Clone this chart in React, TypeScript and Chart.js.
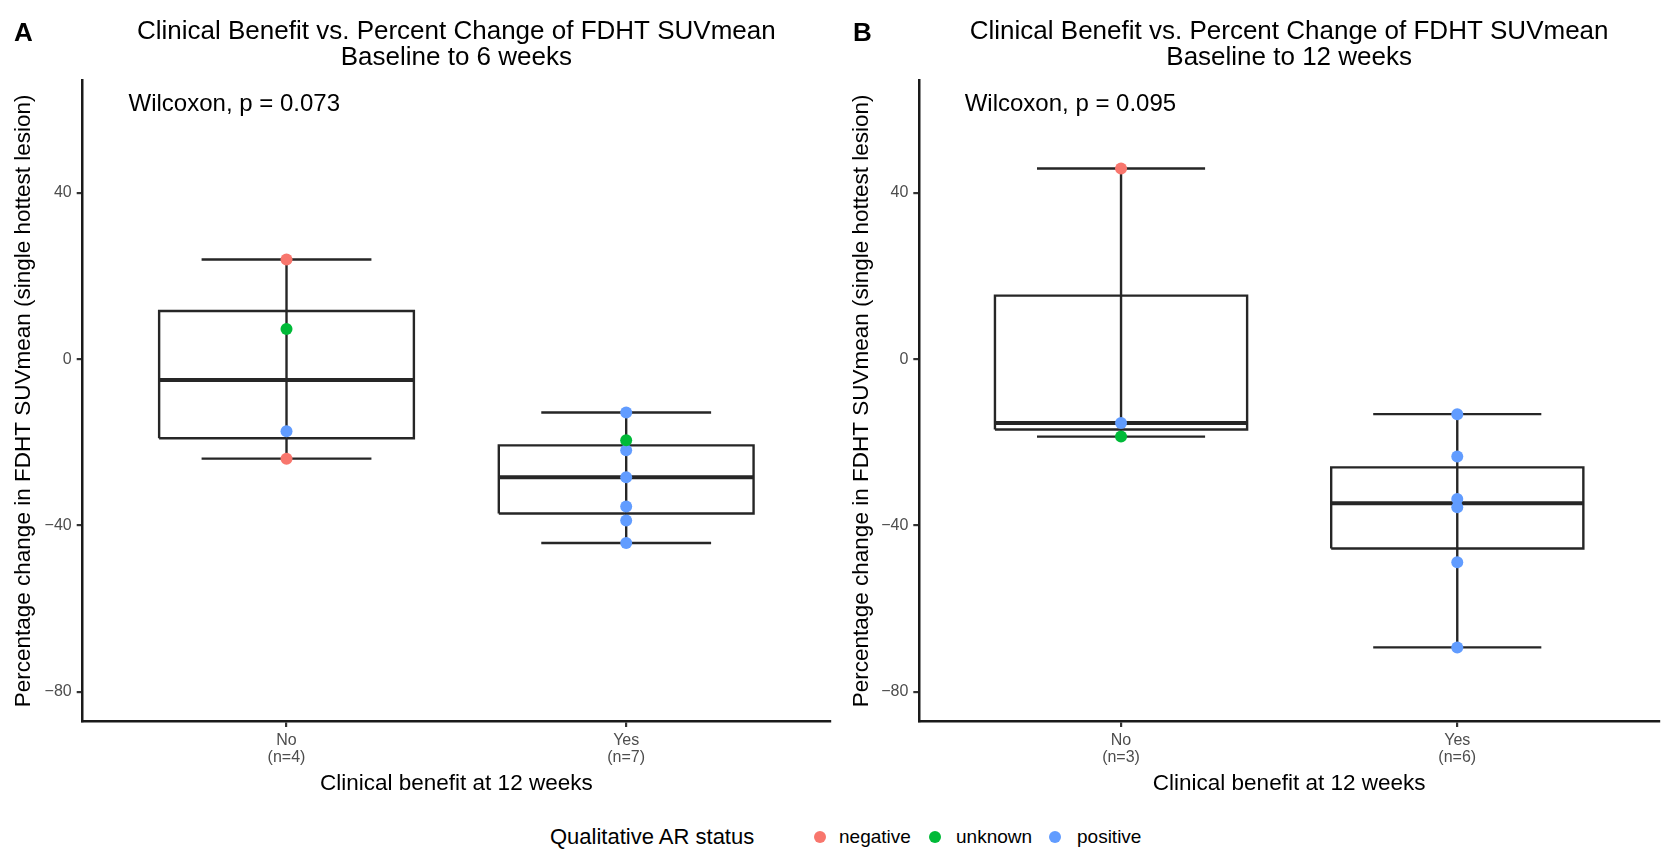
import React, { useEffect, useRef } from "react";
import { Chart, registerables } from "chart.js";

Chart.register(...registerables);

const FONT = "'Liberation Sans', Arial, Helvetica, sans-serif";

// Shared categories and AR status palette
const groups = ["No", "Yes"];
const groupPositions = [1, 2];
const statusNames = ["negative", "unknown", "positive"];
const statusColors = ["#F8766D", "#00BA38", "#619CFF"];
const yTicks = [-80, -40, 0, 40];

// Panel A: baseline to 6 weeks
const countsA = [4, 7];
const noValuesA = [24.0, 7.3, -17.3, -23.9];
const noStatusA = ["negative", "unknown", "positive", "negative"];
const yesValuesA = [-12.8, -19.5, -21.9, -28.4, -35.4, -38.8, -44.2];
const yesStatusA = ["positive", "unknown", "positive", "positive", "positive", "positive", "positive"];
const lowerWhiskerA = [-23.9, -44.2];
const q1A = [-19.0, -37.1];
const medianA = [-5.0, -28.4];
const q3A = [11.6, -20.7];
const upperWhiskerA = [24.0, -12.8];
const pLabelA = "Wilcoxon, p = 0.073";

// Panel B: baseline to 12 weeks
const countsB = [3, 6];
const noValuesB = [45.9, -15.3, -18.6];
const noStatusB = ["negative", "positive", "unknown"];
const yesValuesB = [-13.2, -23.4, -33.6, -35.6, -48.8, -69.3];
const yesStatusB = ["positive", "positive", "positive", "positive", "positive", "positive"];
const lowerWhiskerB = [-18.6, -69.3];
const q1B = [-16.9, -45.5];
const medianB = [-15.3, -34.6];
const q3B = [15.3, -26.0];
const upperWhiskerB = [45.9, -13.2];
const pLabelB = "Wilcoxon, p = 0.095";

// Axis and label text
const titleLine1 = "Clinical Benefit vs. Percent Change of FDHT SUVmean";
const subtitleA = "Baseline to 6 weeks";
const subtitleB = "Baseline to 12 weeks";
const xTitle = "Clinical benefit at 12 weeks";
const yTitle = "Percentage change in FDHT SUVmean (single hottest lesion)";
const legendTitle = "Qualitative AR status";
const pLabelX = 0.535;
const pLabelY = 61.4;

// Legend key placement (dot centre, label start)
const legendDotX = [820, 935, 1055];
const legendLabelX = [839, 956, 1077];

const BOX_HALF = 0.375;
const CAP_HALF = 0.25;
const GAP = { x: 1, y: null as any };
const LINE_COLOR = "#262626";

type Panel = {
  counts: number[];
  values: number[][];
  statuses: string[][];
  low: number[];
  q1: number[];
  med: number[];
  q3: number[];
  high: number[];
  subtitle: string;
  pLabel: string;
};

function buildDatasets(p: Panel) {
  const boxes: any[] = [];
  const medians: any[] = [];
  const whiskers: any[] = [];
  groupPositions.forEach((x, i) => {
    boxes.push(
      { x: x - BOX_HALF, y: p.q1[i] },
      { x: x - BOX_HALF, y: p.q3[i] },
      { x: x + BOX_HALF, y: p.q3[i] },
      { x: x + BOX_HALF, y: p.q1[i] },
      { x: x - BOX_HALF, y: p.q1[i] },
      GAP
    );
    medians.push({ x: x - BOX_HALF, y: p.med[i] }, { x: x + BOX_HALF, y: p.med[i] }, GAP);
    whiskers.push(
      { x: x - CAP_HALF, y: p.high[i] },
      { x: x + CAP_HALF, y: p.high[i] },
      GAP,
      { x: x - CAP_HALF, y: p.low[i] },
      { x: x + CAP_HALF, y: p.low[i] },
      GAP,
      { x, y: p.low[i] },
      { x, y: p.high[i] },
      GAP
    );
  });

  const lineBase = {
    showLine: true,
    pointRadius: 0,
    pointHoverRadius: 0,
    borderColor: LINE_COLOR,
    backgroundColor: "transparent",
    tension: 0,
    spanGaps: false,
    fill: false,
    borderCapStyle: "butt",
    borderJoinStyle: "miter",
  };

  const pointSets = statusNames.map((s, si) => {
    const pts: any[] = [];
    groupPositions.forEach((x, gi) => {
      p.values[gi].forEach((v, k) => {
        if (p.statuses[gi][k] === s) pts.push({ x, y: v });
      });
    });
    return {
      label: s,
      data: pts,
      showLine: false,
      pointRadius: 6,
      pointHoverRadius: 6,
      pointBorderWidth: 0,
      pointBackgroundColor: statusColors[si],
      backgroundColor: statusColors[si],
      order: 0,
    };
  });

  return [
    ...pointSets,
    { ...lineBase, label: "median", data: medians, borderWidth: 4, order: 1 },
    { ...lineBase, label: "box", data: boxes, borderWidth: 2.4, order: 2 },
    { ...lineBase, label: "whisker", data: whiskers, borderWidth: 2.4, order: 3 },
  ];
}

function pValuePlugin(text: string) {
  return {
    id: "pValueText",
    afterDatasetsDraw(chart: any) {
      const { ctx, scales } = chart;
      ctx.save();
      ctx.font = `24px ${FONT}`;
      ctx.fillStyle = "#000000";
      ctx.textAlign = "left";
      ctx.textBaseline = "middle";
      ctx.fillText(text, scales.x.getPixelForValue(pLabelX), scales.y.getPixelForValue(pLabelY));
      ctx.restore();
    },
  };
}

function makeConfig(p: Panel, yAxisWidth: number, rightPad: number): any {
  const tickLabels = groups.map((g, i) => [g, `(n=${p.counts[i]})`]);
  return {
    type: "scatter",
    data: { datasets: buildDatasets(p) },
    plugins: [pValuePlugin(p.pLabel)],
    options: {
      animation: false,
      responsive: true,
      maintainAspectRatio: false,
      layout: { padding: { left: 0, right: rightPad, top: 0, bottom: 0 } },
      plugins: {
        legend: { display: false },
        tooltip: { enabled: false },
        title: {
          display: true,
          fullSize: false,
          text: [titleLine1, p.subtitle],
          color: "#000000",
          font: { family: FONT, size: 26, weight: "normal", lineHeight: "26px" },
          padding: { top: 19, bottom: 9.7 },
        },
      },
      scales: {
        x: {
          type: "linear",
          min: 0.4,
          max: 2.6,
          afterBuildTicks: (scale: any) => {
            scale.ticks = groupPositions.map((v) => ({ value: v }));
          },
          afterFit: (scale: any) => {
            scale.height = 80;
          },
          ticks: {
            callback: (value: number) => {
              const idx = groupPositions.indexOf(value);
              return idx >= 0 ? tickLabels[idx] : "";
            },
            color: "#4D4D4D",
            font: { family: FONT, size: 16, lineHeight: 1.06 },
            padding: 5,
            maxRotation: 0,
            autoSkip: false,
          },
          grid: {
            drawOnChartArea: false,
            drawTicks: true,
            tickLength: 6,
            tickColor: "#333333",
            lineWidth: 2.2,
          },
          border: { display: true, color: "#1a1a1a", width: 2.5 },
          title: {
            display: true,
            text: xTitle,
            color: "#000000",
            font: { family: FONT, size: 22.5, lineHeight: 1.2 },
            padding: { top: 0, bottom: 4 },
          },
        },
        y: {
          type: "linear",
          min: -87,
          max: 67,
          afterBuildTicks: (scale: any) => {
            scale.ticks = yTicks.map((v) => ({ value: v }));
          },
          afterFit: (scale: any) => {
            scale.width = yAxisWidth;
          },
          ticks: {
            callback: (value: number) => (value < 0 ? "\u2212" + Math.abs(value) : String(value)),
            color: "#4D4D4D",
            font: { family: FONT, size: 16 },
            padding: 5,
          },
          grid: {
            drawOnChartArea: false,
            drawTicks: true,
            tickLength: 6,
            tickColor: "#333333",
            lineWidth: 2.2,
          },
          border: { display: true, color: "#1a1a1a", width: 2.5 },
          title: {
            display: true,
            text: yTitle,
            color: "#000000",
            font: { family: FONT, size: 22.5, lineHeight: 1.2 },
            padding: { top: 10.5, bottom: 0 },
          },
        },
      },
    },
  };
}

const panelA: Panel = {
  counts: countsA,
  values: [noValuesA, yesValuesA],
  statuses: [noStatusA, yesStatusA],
  low: lowerWhiskerA,
  q1: q1A,
  med: medianA,
  q3: q3A,
  high: upperWhiskerA,
  subtitle: subtitleA,
  pLabel: pLabelA,
};

const panelB: Panel = {
  counts: countsB,
  values: [noValuesB, yesValuesB],
  statuses: [noStatusB, yesStatusB],
  low: lowerWhiskerB,
  q1: q1B,
  med: medianB,
  q3: q3B,
  high: upperWhiskerB,
  subtitle: subtitleB,
  pLabel: pLabelB,
};

function PanelChart({ panel, yAxisWidth, rightPad }: { panel: Panel; yAxisWidth: number; rightPad: number }) {
  const ref = useRef<HTMLCanvasElement | null>(null);
  useEffect(() => {
    if (!ref.current) return;
    const chart = new Chart(ref.current, makeConfig(panel, yAxisWidth, rightPad));
    return () => chart.destroy();
  }, [panel, yAxisWidth, rightPad]);
  return <canvas ref={ref} />;
}

export default function App() {
  return (
    <div
      style={{
        position: "fixed",
        left: 0,
        top: 0,
        width: 1665,
        height: 849,
        background: "#ffffff",
        fontFamily: FONT,
        overflow: "hidden",
      }}
    >
      <div style={{ position: "absolute", left: 0, top: 0, width: 838, height: 801 }}>
        <PanelChart panel={panelA} yAxisWidth={82.7} rightPad={8} />
      </div>
      <div style={{ position: "absolute", left: 838, top: 0, width: 827, height: 801 }}>
        <PanelChart panel={panelB} yAxisWidth={81.3} rightPad={0} />
      </div>
      <div style={{ position: "absolute", left: 14, top: 19, fontSize: 26, fontWeight: "bold", lineHeight: "26px" }}>A</div>
      <div style={{ position: "absolute", left: 853, top: 19, fontSize: 26, fontWeight: "bold", lineHeight: "26px" }}>B</div>
      <div style={{ position: "absolute", left: 550, top: 837, fontSize: 22, lineHeight: "24px", transform: "translateY(-50%)", whiteSpace: "nowrap" }}>
        {legendTitle}
      </div>
      {statusNames.map((s, i) => (
        <React.Fragment key={s}>
          <span
            style={{
              position: "absolute",
              left: legendDotX[i] - 6,
              top: 837 - 6,
              width: 12,
              height: 12,
              borderRadius: "50%",
              background: statusColors[i],
            }}
          />
          <span
            style={{
              position: "absolute",
              left: legendLabelX[i],
              top: 837,
              fontSize: 19,
              lineHeight: "22px",
              transform: "translateY(-50%)",
              whiteSpace: "nowrap",
            }}
          >
            {s}
          </span>
        </React.Fragment>
      ))}
    </div>
  );
}
